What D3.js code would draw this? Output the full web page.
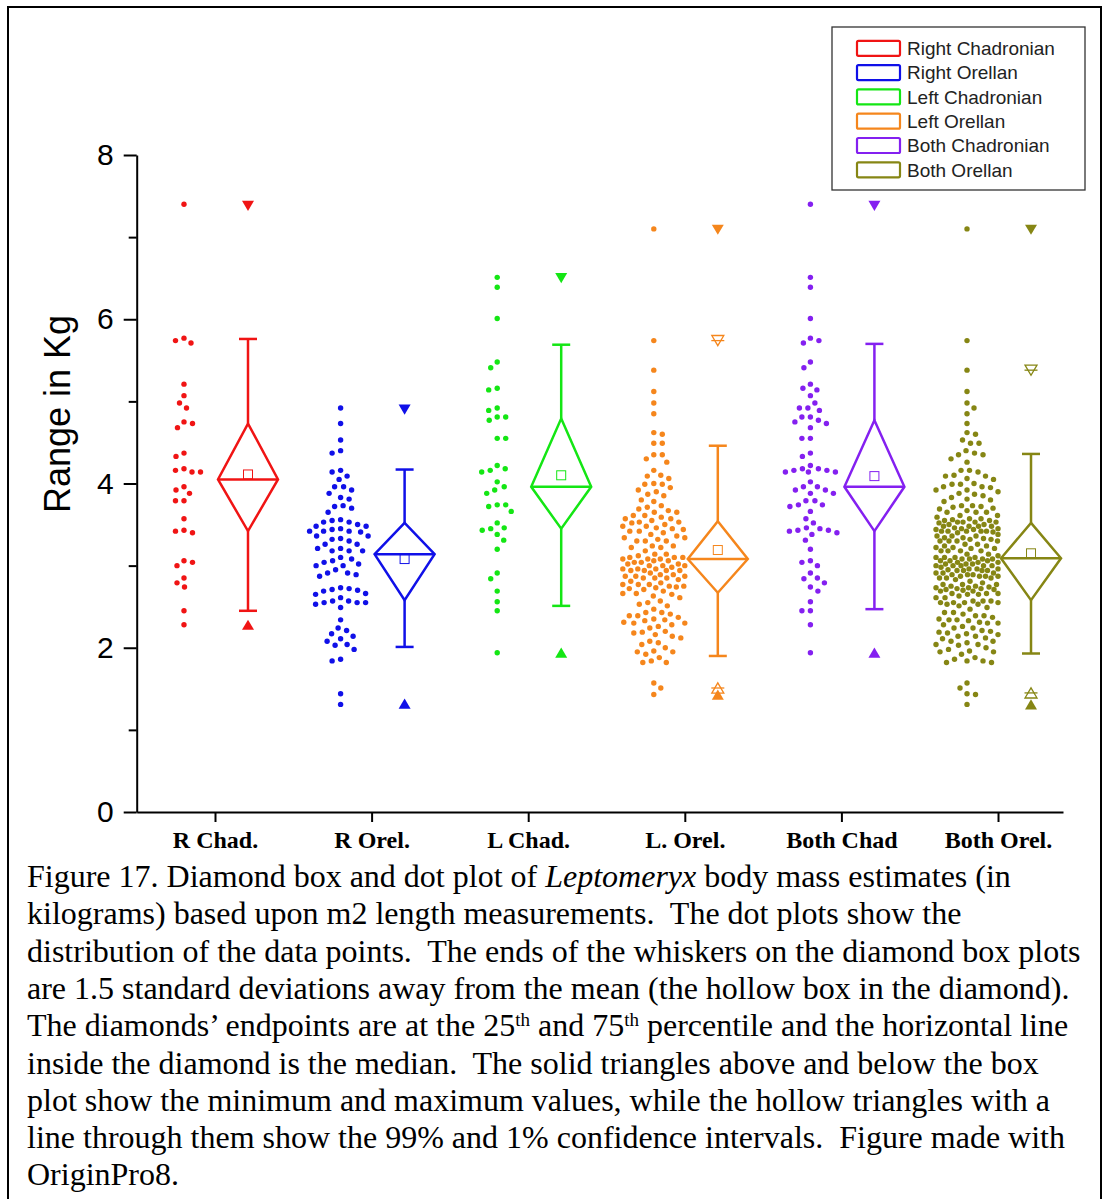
<!DOCTYPE html>
<html lang="en">
<head>
<meta charset="UTF-8">
<title>Leptomeryx diamond box and dot plot</title>
<script src="https://d3js.org/d3.v7.min.js"></script>
<style>
    body { margin: 0; background: #fff; }
    .axis path, .axis line { stroke: #000; stroke-width: 2px; fill: none; }
    .yaxis text { font-family: "Liberation Sans", Arial, sans-serif; font-size: 30px; fill: #000; }
    .xaxis text { font-family: "Liberation Serif", "Times New Roman", serif; font-size: 24px; font-weight: bold; fill: #000; }
    .caption { font-family: "Liberation Serif", "Times New Roman", serif; font-size: 32px; fill: #000; white-space: pre; }
    .legend text { font-family: "Liberation Sans", Arial, sans-serif; font-size: 19px; fill: #222; }
</style>
</head>
<body>
<svg id="chart" width="1109" height="1199"></svg>
<script>
// ---- data (kg) ----
var groups = ["R Chad.", "R Orel.", "L Chad.", "L. Orel.", "Both Chad", "Both Orel."];
var legendNames = ["Right Chadronian", "Right Orellan", "Left Chadronian", "Left Orellan", "Both Chadronian", "Both Orellan"];
var colors = ["#f01414", "#1010e8", "#14e614", "#f5861c", "#8420f0", "#868614"];

var rChad = [7.40, 5.77, 5.74, 5.71, 5.21, 5.07, 4.98, 4.92, 4.75, 4.73, 4.68, 4.37, 4.33, 4.18, 4.16, 4.14, 4.14,
    3.96, 3.92, 3.88, 3.79, 3.79, 3.57, 3.43, 3.42, 3.40, 3.06, 3.04, 3.00, 2.85, 2.79, 2.74, 2.45, 2.28];

var rOrel = [4.92, 4.73, 4.53, 4.40, 4.37, 4.16, 4.14, 4.09, 4.05, 3.96, 3.96, 3.92, 3.88, 3.83, 3.81, 3.73, 3.72,
    3.70, 3.65, 3.56, 3.55, 3.53, 3.53, 3.50, 3.48, 3.48, 3.45, 3.44, 3.42, 3.42, 3.42, 3.41, 3.36, 3.36, 3.33,
    3.32, 3.30, 3.26, 3.26, 3.21, 3.21, 3.18, 3.18, 3.18, 3.10, 3.08, 3.06, 3.04, 3.02, 3.00, 3.00, 2.95, 2.91,
    2.91, 2.89, 2.87, 2.73, 2.72, 2.71, 2.70, 2.69, 2.66, 2.65, 2.61, 2.57, 2.57, 2.55, 2.55, 2.55, 2.53, 2.49,
    2.34, 2.24, 2.21, 2.17, 2.14, 2.11, 2.08, 2.04, 2.03, 1.98, 1.86, 1.84, 1.44, 1.31];

var lChad = [6.51, 6.39, 6.01, 5.48, 5.41, 5.16, 5.14, 4.92, 4.89, 4.81, 4.81, 4.77, 4.55, 4.55, 4.22, 4.18, 4.16,
    4.14, 4.02, 3.96, 3.92, 3.88, 3.74, 3.74, 3.72, 3.66, 3.52, 3.46, 3.45, 3.43, 3.38, 3.31, 3.20, 2.91, 2.84,
    2.69, 2.56, 2.45, 1.94];

var lOrel = [7.10, 5.74, 5.38, 5.12, 4.98, 4.85, 4.62, 4.60, 4.49, 4.49, 4.35, 4.35, 4.30, 4.26,
    4.16, 4.10, 4.09, 4.06, 4.00, 3.99, 3.99, 3.95, 3.92, 3.90, 3.87, 3.85, 3.80, 3.78,
    3.73, 3.71, 3.69, 3.67, 3.65, 3.65, 3.61, 3.61, 3.59, 3.57, 3.57, 3.55, 3.53, 3.53, 3.52,
    3.50, 3.48, 3.48, 3.46, 3.45, 3.44, 3.42, 3.42, 3.40, 3.38, 3.36, 3.34, 3.34, 3.32,
    3.30, 3.30, 3.30, 3.24, 3.24, 3.22, 3.22, 3.18, 3.14, 3.14, 3.12, 3.10, 3.10, 3.10,
    3.08, 3.08, 3.08, 3.06, 3.06, 3.04, 3.04, 3.02, 3.02, 3.00, 3.00, 3.00,
    2.98, 2.96, 2.96, 2.96, 2.94, 2.94, 2.94, 2.94, 2.91, 2.89, 2.89, 2.87, 2.87, 2.87,
    2.85, 2.85, 2.85, 2.83, 2.81, 2.79, 2.77, 2.77, 2.77, 2.75, 2.75, 2.74, 2.73, 2.72, 2.71, 2.69,
    2.66, 2.66, 2.65, 2.63, 2.61, 2.57, 2.55, 2.53, 2.51, 2.47, 2.43, 2.43, 2.41, 2.39, 2.39,
    2.37, 2.35, 2.34, 2.33, 2.31, 2.30, 2.30, 2.28, 2.26, 2.24, 2.20, 2.19, 2.18, 2.16, 2.14, 2.12,
    2.08, 2.06, 2.04, 2.00, 1.96, 1.95, 1.95, 1.92, 1.88, 1.84, 1.82, 1.82, 1.57, 1.51, 1.43];

// "Both" = left and right pooled
var bothChad = rChad.concat(lChad);
var bothOrel = rOrel.concat(lOrel);
var dotSets = [rChad, rOrel, lChad, lOrel, bothChad, bothOrel];

// box statistics
var means     = [4.11, 3.08, 4.10, 3.19, 4.09, 3.15];
var medians   = [4.05, 3.14, 3.96, 3.08, 3.96, 3.09];
var q1s       = [3.42, 2.58, 3.45, 2.67, 3.42, 2.58];
var q3s       = [4.73, 3.52, 4.79, 3.54, 4.77, 3.52];
var whiskLo   = [2.45, 2.01, 2.51, 1.90, 2.47, 1.93];
var whiskHi   = [5.76, 4.17, 5.69, 4.46, 5.70, 4.36];
var mins      = [2.28, 1.32, 1.94, 1.43, 1.94, 1.31];
var maxs      = [7.38, 4.90, 6.50, 7.09, 7.38, 7.09];
var pct1      = [2.28, 1.32, 1.94, 1.51, 1.94, 1.45];
var pct99     = [7.38, 4.90, 6.50, 5.74, 7.38, 5.38];

var yTicks = [0, 2, 4, 6, 8];
var yMinor = [1, 3, 5, 7];

var caption = [
    [["Figure 17. Diamond box and dot plot of "], ["Leptomeryx", "i"], [" body mass estimates (in"]],
    [["kilograms) based upon m2 length measurements.  The dot plots show the"]],
    [["distribution of the data points.  The ends of the whiskers on the diamond box plots"]],
    [["are 1.5 standard deviations away from the mean (the hollow box in the diamond)."]],
    [["The diamonds\u2019 endpoints are at the 25"], ["th", "s"], [" and 75"], ["th", "s"], [" percentile and the horizontal line"]],
    [["inside the diamond is the median.  The solid triangles above and below the box"]],
    [["plot show the minimum and maximum values, while the hollow triangles with a"]],
    [["line through them show the 99% and 1% confidence intervals.  Figure made with"]],
    [["OriginPro8."]]
];

// ---- drawing ----
var svg = d3.select("#chart");

// outer frame
svg.append("rect")
    .attr("x", 8).attr("y", 7).attr("width", 1093).attr("height", 1210)
    .attr("fill", "none").attr("stroke", "#000").attr("stroke-width", 2);

var x = d3.scaleLinear().domain([0.5, 6.415]).range([136.7, 1063]);
var y = d3.scaleLinear().domain([0, 8]).range([812, 155]);

// axes
svg.append("g").attr("class", "axis yaxis")
    .attr("transform", "translate(" + x.range()[0] + ",0)")
    .call(d3.axisLeft(y).tickValues(yTicks).tickSize(13).tickSizeOuter(0).tickPadding(10));
svg.append("g").attr("class", "axis yaxis")
    .attr("transform", "translate(" + x.range()[0] + ",0)")
    .call(d3.axisLeft(y).tickValues(yMinor).tickSize(8).tickFormat(""))
    .call(function(g) { g.select(".domain").remove(); });

svg.append("g").attr("class", "axis xaxis")
    .attr("transform", "translate(0," + y(0) + ")")
    .call(d3.axisBottom(x).tickValues(d3.range(1, groups.length + 1)).tickSize(10).tickSizeOuter(0).tickPadding(9)
        .tickFormat(function(d) { return groups[d - 1]; }));

svg.append("text")
    .attr("transform", "translate(70,414) rotate(-90)")
    .attr("text-anchor", "middle")
    .style("font-family", "'Liberation Sans', Arial, sans-serif")
    .style("font-size", "36px")
    .text("Range in Kg");

// dot layout: simple beeswarm clamped to a fixed half width
function swarm(values, D, W) {
    var pts = values.map(function(v) { return {v: v, py: y(v)}; })
        .sort(function(a, b) { return a.py - b.py; });
    var placed = [];
    pts.forEach(function(p, k) {
        var near = placed.filter(function(q) { return Math.abs(q.py - p.py) < D; });
        var signs = k % 2 ? [1, -1] : [-1, 1];
        var chosen = null, fallback = 0, bestD = -1;
        for (var dx = 0; dx <= W && chosen === null; dx += 0.5) {
            for (var s = 0; s < 2; s++) {
                var cx = signs[s] * dx, md = Infinity;
                near.forEach(function(q) {
                    var d = Math.hypot(q.dx - cx, q.py - p.py);
                    if (d < md) md = d;
                });
                if (md >= D) { chosen = cx; break; }
                if (md > bestD) { bestD = md; fallback = cx; }
                if (dx === 0) break;
            }
        }
        p.dx = chosen === null ? fallback : chosen;
        placed.push(p);
    });
    return placed;
}

var dotOffset = -31, boxOffset = 33, halfW = 30, capW = 9;

dotSets.forEach(function(vals, i) {
    var cx = x(i + 1) + dotOffset;
    svg.append("g").selectAll("circle")
        .data(swarm(vals, 8.5, 31))
        .join("circle")
        .attr("cx", function(d) { return cx + d.dx; })
        .attr("cy", function(d) { return d.py; })
        .attr("r", 2.7)
        .attr("fill", colors[i]);
});

function tri(cx, cy, down, s) {
    var h = s * 0.85;
    if (down) return "M" + (cx - s / 2) + "," + (cy - h / 2) + "L" + (cx + s / 2) + "," + (cy - h / 2) + "L" + cx + "," + (cy + h / 2) + "Z";
    return "M" + (cx - s / 2) + "," + (cy + h / 2) + "L" + (cx + s / 2) + "," + (cy + h / 2) + "L" + cx + "," + (cy - h / 2) + "Z";
}

groups.forEach(function(g, i) {
    var bx = x(i + 1) + boxOffset, c = colors[i];
    var gg = svg.append("g").attr("stroke", c).attr("stroke-width", 2.5).attr("fill", "none");
    // whiskers
    gg.append("line").attr("x1", bx).attr("x2", bx).attr("y1", y(whiskHi[i])).attr("y2", y(q3s[i]));
    gg.append("line").attr("x1", bx).attr("x2", bx).attr("y1", y(q1s[i])).attr("y2", y(whiskLo[i]));
    gg.append("line").attr("x1", bx - capW).attr("x2", bx + capW).attr("y1", y(whiskHi[i])).attr("y2", y(whiskHi[i]));
    gg.append("line").attr("x1", bx - capW).attr("x2", bx + capW).attr("y1", y(whiskLo[i])).attr("y2", y(whiskLo[i]));
    // diamond
    gg.append("path")
        .attr("stroke-linejoin", "miter")
        .attr("d", "M" + bx + "," + y(q3s[i]) + "L" + (bx + halfW) + "," + y(medians[i]) +
            "L" + bx + "," + y(q1s[i]) + "L" + (bx - halfW) + "," + y(medians[i]) + "Z");
    gg.append("line").attr("x1", bx - halfW).attr("x2", bx + halfW).attr("y1", y(medians[i])).attr("y2", y(medians[i]));
    // mean
    gg.append("rect").attr("x", bx - 4.5).attr("y", y(means[i]) - 4.5).attr("width", 9).attr("height", 9)
        .attr("stroke-width", 1);
    // 1% / 99% hollow triangles with a bar
    if (pct99[i] !== maxs[i]) {
        gg.append("path").attr("d", tri(bx, y(pct99[i]), true, 12)).attr("stroke-width", 1.3);
        gg.append("line").attr("x1", bx - 6.5).attr("x2", bx + 6.5).attr("y1", y(pct99[i])).attr("y2", y(pct99[i])).attr("stroke-width", 1.3);
    }
    if (pct1[i] !== mins[i]) {
        gg.append("path").attr("d", tri(bx, y(pct1[i]), false, 12)).attr("stroke-width", 1.3);
        gg.append("line").attr("x1", bx - 6.5).attr("x2", bx + 6.5).attr("y1", y(pct1[i])).attr("y2", y(pct1[i])).attr("stroke-width", 1.3);
    }
    // min / max
    svg.append("path").attr("d", tri(bx, y(maxs[i]), true, 12)).attr("fill", c);
    svg.append("path").attr("d", tri(bx, y(mins[i]), false, 12)).attr("fill", c);
});

// legend
var lg = svg.append("g").attr("class", "legend");
lg.append("rect").attr("x", 832).attr("y", 27).attr("width", 253).attr("height", 163)
    .attr("fill", "#fff").attr("stroke", "#333").attr("stroke-width", 1.3);
legendNames.forEach(function(n, i) {
    var yy = 48.3 + i * 24.3;
    lg.append("rect").attr("x", 857).attr("y", yy - 7.5).attr("width", 43).attr("height", 15)
        .attr("fill", "none").attr("stroke", colors[i]).attr("stroke-width", 2.2).attr("rx", 1.5);
    lg.append("text").attr("x", 907).attr("y", yy).attr("dy", "0.36em").text(n);
});

// caption
caption.forEach(function(parts, i) {
    var t = svg.append("text").attr("class", "caption").attr("x", 27).attr("y", 887 + i * 37.3);
    parts.forEach(function(p) {
        var s = t.append("tspan").text(p[0]);
        if (p[1] === "i") s.style("font-style", "italic");
        if (p[1] === "s") s.attr("baseline-shift", "super").style("font-size", "19px");
    });
});
</script>
</body>
</html>
